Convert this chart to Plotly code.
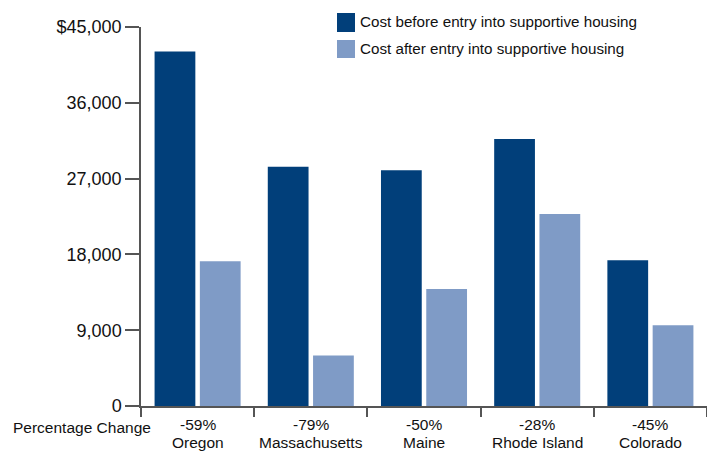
import plotly.graph_objects as go

states = ["Oregon", "Massachusetts", "Maine", "Rhode Island", "Colorado"]
pct_change = ["-59%", "-79%", "-50%", "-28%", "-45%"]
cost_before = [42100, 28400, 28000, 31700, 17300]
cost_after = [17200, 6000, 13900, 22800, 9600]
y_ticks = [0, 9000, 18000, 27000, 36000, 45000]
y_tick_text = ["0", "9,000", "18,000", "27,000", "36,000", "$45,000"]
series_names = ["Cost before entry into supportive housing",
                "Cost after entry into supportive housing"]

dark = "#013f7a"
light = "#7f9bc6"
colors = [dark, light]
font = "Liberation Sans, Arial, sans-serif"
txt = "#111111"

fig = go.Figure()
for vals, name, col in zip([cost_before, cost_after], series_names, colors):
    fig.add_trace(go.Bar(x=states, y=vals, name=name,
                         marker=dict(color=col, line=dict(width=0))))

fig.update_layout(
    width=707, height=451,
    margin=dict(l=141, r=0, t=27, b=45),
    paper_bgcolor="white", plot_bgcolor="white",
    barmode="group", bargap=0.2, bargroupgap=0.1,
    font=dict(family=font, color=txt),
    showlegend=False,
    xaxis=dict(
        tickmode="array", tickvals=states, showticklabels=False,
        tickson="boundaries", ticks="outside", ticklen=9, tickcolor="#555555", tickwidth=1.5,
        showline=True, linecolor="#555555", linewidth=1.5,
        showgrid=False, zeroline=False, range=[-0.5, 4.5],
    ),
    yaxis=dict(
        range=[0, 45000], tickmode="array", tickvals=y_ticks, ticktext=y_tick_text,
        ticks="outside", ticklen=14, tickcolor="#555555", tickwidth=1.5,
        showline=True, linecolor="#555555", linewidth=1.5,
        tickfont=dict(size=18, family=font, color=txt),
        showgrid=False, zeroline=False,
    ),
)

# category labels (two lines, tight spacing)
for s, p in zip(states, pct_change):
    fig.add_annotation(text=p, x=s, xref="x", y=-0.0475, yref="paper",
                       xanchor="center", yanchor="middle", showarrow=False, borderpad=0,
                       font=dict(size=15.5, family=font, color=txt))
    fig.add_annotation(text=s, x=s, xref="x", y=-0.095, yref="paper",
                       xanchor="center", yanchor="middle", showarrow=False, borderpad=0,
                       font=dict(size=15.5, family=font, color=txt))

fig.add_annotation(text="Percentage Change", xref="paper", yref="paper",
                   x=0.0194, y=-0.056, xanchor="right", yanchor="middle", showarrow=False,
                   borderpad=0, font=dict(size=15.5, family=font, color=txt))

# manual legend
leg = [(0.9868, 1.0369, 1.0132), (0.9182, 0.9657, 0.9420)]
for (y0, y1, yt), name, col in zip(leg, series_names, colors):
    fig.add_shape(type="rect", xref="paper", yref="paper",
                  x0=0.3463, x1=0.3781, y0=y0, y1=y1,
                  fillcolor=col, line=dict(width=0))
    fig.add_annotation(text=name, xref="paper", yref="paper", x=0.3834, y=yt,
                       xanchor="left", yanchor="middle", showarrow=False,
                       font=dict(size=15.2, family=font, color=txt))

fig.write_html("out.html")
